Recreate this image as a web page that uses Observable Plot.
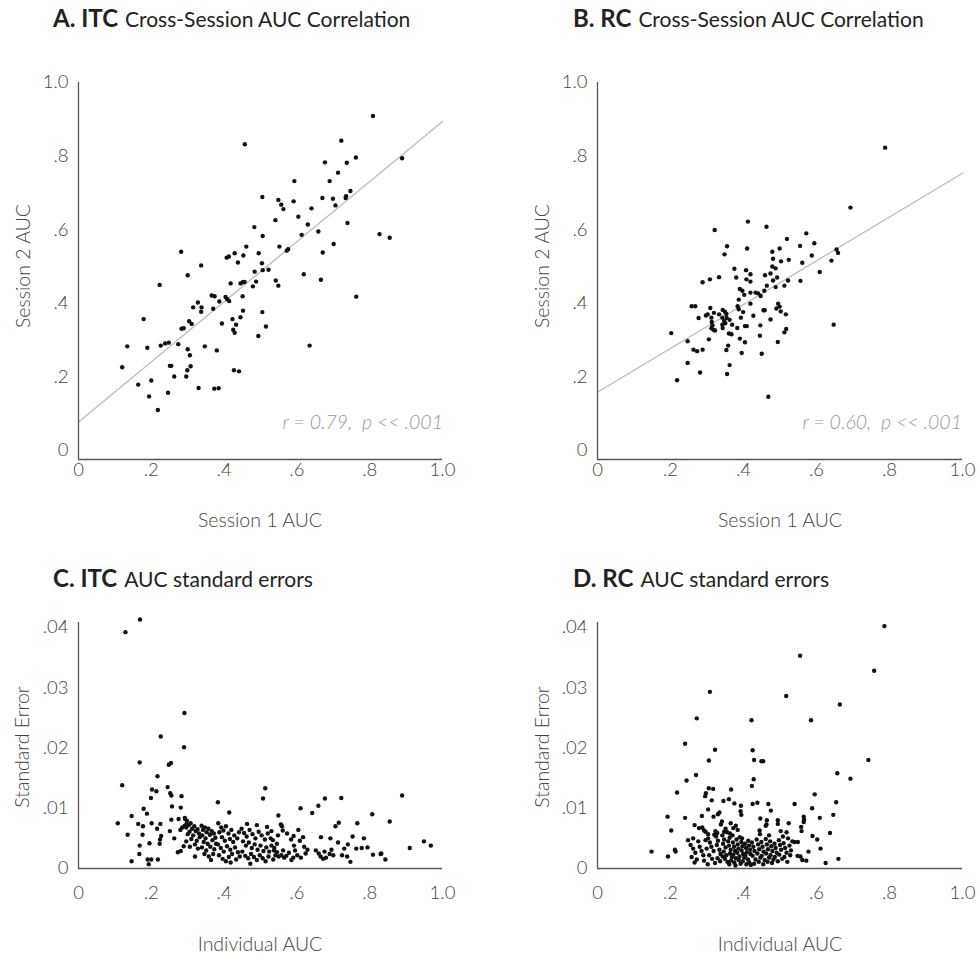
<!DOCTYPE html>
<html>
<head>
<meta charset="utf-8">
<script src="https://cdn.jsdelivr.net/npm/d3@7"></script>
<script src="https://cdn.jsdelivr.net/npm/@observablehq/plot@0.6"></script>
<style>
  body { margin: 0; background: #fff; }
  #root { position: relative; width: 980px; height: 956px; overflow: hidden; font-family: Lato, "Open Sans", sans-serif; }
  .title { position: absolute; font-size: 21px; color: #222; white-space: nowrap; line-height: 28px; }
  .title b { font-size: 24px; font-weight: 700; margin-right: 7px; }
  .axt { position: absolute; font-size: 19.5px; font-weight: 300; color: #444; white-space: nowrap; transform: translate(-50%, -50%); }
  .axt.rot { transform: translate(-50%, -50%) rotate(-90deg); }
  .note { position: absolute; font-size: 19.5px; font-weight: 300; font-style: italic; color: #999; white-space: nowrap; transform: translate(-100%, -50%); }
  #root svg { position: absolute; }
</style>
</head>
<body>
<div id="root">
  <div class="title" style="left:53px;top:4px"><b>A. ITC</b>Cross-Session AUC Correlation</div>
  <div class="title" style="left:573px;top:4px"><b>B. RC</b>Cross-Session AUC Correlation</div>
  <div class="title" style="left:53px;top:564px"><b>C. ITC</b>AUC standard errors</div>
  <div class="title" style="left:573px;top:564px"><b>D. RC</b>AUC standard errors</div>

  <div class="axt rot" style="left:22px;top:266px">Session 2 AUC</div>
  <div class="axt" style="left:260px;top:519px">Session 1 AUC</div>
  <div class="axt rot" style="left:541px;top:266px">Session 2 AUC</div>
  <div class="axt" style="left:780px;top:519px">Session 1 AUC</div>
  <div class="axt rot" style="left:21px;top:747px">Standard Error</div>
  <div class="axt" style="left:260px;top:943px">Individual AUC</div>
  <div class="axt rot" style="left:541px;top:747px">Standard Error</div>
  <div class="axt" style="left:780px;top:943px">Individual AUC</div>

  <div class="note" style="left:443px;top:421px">r = 0.79,&nbsp; p &lt;&lt; .001</div>
  <div class="note" style="left:962px;top:421px">r = 0.60,&nbsp; p &lt;&lt; .001</div>
</div>
<script>
// ---------- DATA ----------
const aucTicks = [0, 0.2, 0.4, 0.6, 0.8, 1.0];
const seTicks = [0, 0.01, 0.02, 0.03, 0.04];

// Panel A: ITC, [session 1 AUC, session 2 AUC]
const itcCrossSession = [
  [0.457,0.832],[0.593,0.732],[0.505,0.689],[0.549,0.681],[0.557,0.668],[0.563,0.656],[0.591,0.677],[0.604,0.635],
  [0.541,0.626],[0.483,0.607],[0.506,0.583],[0.461,0.554],[0.552,0.554],[0.572,0.543],[0.576,0.547],[0.282,0.540],
  [0.429,0.536],[0.495,0.536],[0.407,0.524],[0.413,0.527],[0.453,0.530],[0.438,0.511],[0.504,0.509],[0.337,0.503],
  [0.506,0.490],[0.522,0.491],[0.484,0.486],[0.300,0.476],[0.418,0.454],[0.445,0.454],[0.451,0.457],[0.456,0.458],
  [0.488,0.459],[0.479,0.446],[0.542,0.462],[0.549,0.448],[0.223,0.450],[0.366,0.421],[0.374,0.419],[0.404,0.417],
  [0.409,0.411],[0.414,0.406],[0.387,0.405],[0.451,0.419],[0.328,0.402],[0.315,0.389],[0.338,0.389],[0.337,0.377],
  [0.370,0.385],[0.452,0.380],[0.505,0.376],[0.179,0.357],[0.304,0.351],[0.311,0.344],[0.394,0.345],[0.423,0.357],
  [0.445,0.362],[0.433,0.342],[0.515,0.337],[0.283,0.331],[0.289,0.332],[0.425,0.328],[0.429,0.320],[0.494,0.311],
  [0.134,0.283],[0.189,0.279],[0.226,0.285],[0.238,0.291],[0.248,0.293],[0.274,0.289],[0.347,0.283],[0.300,0.275],
  [0.380,0.272],[0.306,0.259],[0.120,0.226],[0.251,0.230],[0.255,0.230],[0.308,0.229],[0.299,0.218],[0.427,0.218],
  [0.441,0.215],[0.263,0.201],[0.296,0.201],[0.200,0.190],[0.164,0.179],[0.330,0.170],[0.373,0.168],[0.385,0.169],
  [0.246,0.157],[0.194,0.147],[0.218,0.110],
  [0.809,0.909],[0.722,0.842],[0.677,0.783],[0.737,0.782],[0.762,0.796],[0.889,0.794],[0.713,0.755],[0.690,0.732],
  [0.670,0.686],[0.699,0.684],[0.735,0.691],[0.734,0.686],[0.747,0.705],[0.706,0.666],[0.640,0.658],[0.630,0.614],
  [0.613,0.586],[0.659,0.595],[0.739,0.618],[0.827,0.588],[0.855,0.578],[0.701,0.561],[0.671,0.538],[0.619,0.479],
  [0.666,0.464],[0.763,0.418],[0.635,0.285]
];

// Panel B: RC, [session 1 AUC, session 2 AUC]
const rcCrossSession = [
  [0.412,0.622],[0.463,0.608],[0.321,0.599],[0.519,0.575],[0.355,0.555],[0.410,0.549],[0.479,0.540],[0.499,0.549],
  [0.348,0.533],[0.481,0.521],[0.503,0.514],[0.524,0.518],[0.479,0.500],[0.488,0.495],[0.375,0.494],[0.407,0.490],
  [0.419,0.479],[0.459,0.476],[0.474,0.481],[0.333,0.471],[0.380,0.470],[0.408,0.465],[0.481,0.462],[0.492,0.470],
  [0.308,0.465],[0.288,0.457],[0.419,0.459],[0.522,0.462],[0.464,0.448],[0.488,0.444],[0.512,0.448],[0.390,0.439],
  [0.397,0.434],[0.402,0.423],[0.419,0.429],[0.433,0.429],[0.440,0.427],[0.447,0.420],[0.457,0.434],[0.387,0.410],
  [0.419,0.399],[0.258,0.392],[0.268,0.392],[0.309,0.387],[0.343,0.382],[0.349,0.377],[0.353,0.371],[0.384,0.392],
  [0.387,0.384],[0.399,0.376],[0.455,0.381],[0.458,0.381],[0.495,0.399],[0.499,0.391],[0.490,0.386],[0.502,0.378],
  [0.516,0.370],[0.297,0.367],[0.302,0.370],[0.319,0.374],[0.333,0.370],[0.277,0.360],[0.312,0.361],[0.342,0.361],
  [0.354,0.360],[0.362,0.355],[0.347,0.352],[0.393,0.361],[0.427,0.366],[0.474,0.356],[0.313,0.349],[0.315,0.340],
  [0.312,0.332],[0.318,0.328],[0.322,0.326],[0.342,0.342],[0.350,0.346],[0.369,0.342],[0.383,0.333],[0.404,0.338],
  [0.409,0.338],[0.446,0.340],[0.343,0.333],[0.360,0.318],[0.367,0.316],[0.517,0.330],[0.512,0.321],[0.202,0.319],
  [0.305,0.302],[0.390,0.304],[0.404,0.294],[0.445,0.312],[0.247,0.297],[0.358,0.285],[0.353,0.273],[0.494,0.295],
  [0.263,0.274],[0.273,0.270],[0.288,0.274],[0.395,0.265],[0.450,0.263],[0.247,0.238],[0.362,0.232],[0.281,0.212],
  [0.355,0.208],[0.218,0.191],[0.468,0.146],
  [0.788,0.823],[0.693,0.660],[0.572,0.590],[0.594,0.563],[0.555,0.556],[0.587,0.530],[0.655,0.546],[0.659,0.537],
  [0.561,0.510],[0.641,0.516],[0.609,0.485],[0.556,0.461],[0.647,0.342]
];

// Panel C: ITC, [individual AUC, standard error]
const itcStdErrors = [
  [0.169,0.0413],[0.129,0.0392],[0.291,0.0258],[0.226,0.0219],[0.290,0.0201],[0.168,0.0176],[0.248,0.0172],[0.254,0.0175],
  [0.217,0.0153],[0.120,0.0138],[0.202,0.0131],[0.214,0.0128],[0.199,0.0117],[0.245,0.0135],[0.252,0.0125],[0.255,0.0121],
  [0.283,0.0120],[0.257,0.0103],[0.281,0.0101],[0.179,0.0099],[0.188,0.0091],[0.146,0.0087],[0.108,0.0075],[0.164,0.0074],
  [0.177,0.0070],[0.201,0.0075],[0.225,0.0074],[0.216,0.0066],[0.255,0.0081],[0.275,0.0082],[0.251,0.0062],[0.135,0.0056],
  [0.176,0.0056],[0.227,0.0054],[0.224,0.0048],[0.223,0.0041],[0.263,0.0050],[0.195,0.0042],[0.168,0.0038],[0.167,0.0024],
  [0.146,0.0012],[0.190,0.0015],[0.200,0.0015],[0.193,0.0007],[0.218,0.0015],[0.273,0.0027],[0.281,0.0029],[0.289,0.0037],
  [0.320,0.0020],[0.383,0.0110],[0.414,0.0093],[0.513,0.0133],[0.507,0.0116],[0.549,0.0088],
  [0.285,0.0068],[0.292,0.0071],[0.297,0.0074],[0.293,0.0082],[0.280,0.0064],
  [0.292,0.0084],[0.298,0.0079],[0.303,0.0072],[0.296,0.0068],[0.308,0.0075],[0.312,0.0066],[0.318,0.0070],[0.305,0.0061],
  [0.322,0.0062],[0.300,0.0057],[0.315,0.0055],[0.327,0.0065],[0.331,0.0058],[0.310,0.0049],[0.325,0.0046],[0.296,0.0045],
  [0.333,0.0052],[0.320,0.0040],[0.306,0.0036],[0.328,0.0033],
  [0.338,0.0071],[0.342,0.0064],[0.347,0.0068],[0.352,0.0060],[0.357,0.0066],[0.340,0.0055],[0.349,0.0050],[0.361,0.0056],
  [0.366,0.0062],[0.372,0.0058],[0.344,0.0044],[0.355,0.0041],[0.368,0.0047],[0.376,0.0051],[0.339,0.0035],[0.351,0.0030],
  [0.362,0.0036],[0.373,0.0032],[0.346,0.0024],[0.358,0.0020],[0.370,0.0024],[0.378,0.0041],[0.364,0.0014],
  [0.384,0.0075],[0.392,0.0068],[0.387,0.0060],[0.398,0.0063],[0.405,0.0070],[0.412,0.0058],[0.420,0.0064],[0.428,0.0055],
  [0.394,0.0052],[0.402,0.0046],[0.416,0.0049],[0.425,0.0044],[0.436,0.0050],[0.441,0.0060],[0.383,0.0040],[0.391,0.0034],
  [0.399,0.0028],[0.408,0.0037],[0.417,0.0031],[0.430,0.0035],[0.438,0.0027],[0.386,0.0022],[0.396,0.0016],[0.405,0.0012],
  [0.413,0.0019],[0.422,0.0024],[0.433,0.0015],[0.443,0.0020],[0.418,0.0010],
  [0.448,0.0066],[0.455,0.0059],[0.462,0.0053],[0.470,0.0064],[0.478,0.0057],[0.486,0.0050],[0.495,0.0061],[0.503,0.0055],
  [0.512,0.0048],[0.520,0.0058],[0.530,0.0062],[0.452,0.0045],[0.460,0.0038],[0.468,0.0043],[0.476,0.0034],[0.484,0.0040],
  [0.492,0.0031],[0.500,0.0038],[0.508,0.0029],[0.516,0.0035],[0.524,0.0028],[0.450,0.0028],[0.458,0.0021],[0.466,0.0017],
  [0.474,0.0024],[0.482,0.0019],[0.490,0.0014],[0.498,0.0022],[0.506,0.0017],[0.514,0.0012],[0.522,0.0020],[0.538,0.0034],
  [0.545,0.0041],[0.548,0.0055],[0.518,0.0069],[0.490,0.0072],[0.463,0.0074],[0.472,0.0008],[0.535,0.0015],
  [0.528,0.0050],[0.534,0.0047],[0.530,0.0038],[0.537,0.0030],[0.541,0.0022],[0.550,0.0020],[0.557,0.0022],[0.565,0.0018],
  [0.571,0.0021],[0.585,0.0014],[0.590,0.0018],[0.545,0.0027],[0.562,0.0030],[0.578,0.0026],
  [0.889,0.0121],[0.677,0.0116],[0.722,0.0117],[0.659,0.0104],[0.610,0.0100],[0.642,0.0092],[0.807,0.0090],[0.766,0.0075],
  [0.855,0.0078],[0.706,0.0070],[0.715,0.0076],[0.556,0.0073],[0.559,0.0070],[0.604,0.0064],[0.561,0.0063],[0.573,0.0058],
  [0.666,0.0052],[0.692,0.0050],[0.753,0.0053],[0.784,0.0050],[0.584,0.0048],[0.591,0.0054],[0.608,0.0046],[0.617,0.0052],
  [0.713,0.0043],[0.740,0.0040],[0.730,0.0033],[0.763,0.0033],[0.778,0.0034],[0.794,0.0035],[0.910,0.0034],[0.949,0.0045],
  [0.968,0.0038],[0.809,0.0023],[0.830,0.0024],[0.832,0.0025],[0.843,0.0015],[0.747,0.0011],[0.724,0.0022],[0.738,0.0020],
  [0.592,0.0038],[0.595,0.0030],[0.601,0.0022],[0.611,0.0018],[0.624,0.0025],[0.629,0.0031],[0.620,0.0036],
  [0.652,0.0030],[0.660,0.0025],[0.665,0.0020],[0.672,0.0016],[0.680,0.0018],[0.690,0.0024],[0.700,0.0022],[0.676,0.0028],
  [0.695,0.0031]
];

// Panel D: RC, [individual AUC, standard error]
const rcStdErrors = [
  [0.786,0.0402],[0.555,0.0353],[0.758,0.0328],[0.308,0.0293],[0.517,0.0286],[0.664,0.0272],[0.272,0.0249],[0.422,0.0246],
  [0.585,0.0246],[0.240,0.0207],[0.425,0.0196],[0.322,0.0197],[0.305,0.0179],[0.429,0.0180],[0.449,0.0178],[0.454,0.0178],
  [0.742,0.0180],[0.270,0.0155],[0.244,0.0146],[0.428,0.0148],[0.657,0.0158],[0.693,0.0149],[0.423,0.0137],[0.218,0.0126],
  [0.305,0.0133],[0.317,0.0132],[0.297,0.0125],[0.295,0.0120],[0.366,0.0131],[0.595,0.0123],[0.313,0.0113],[0.345,0.0112],
  [0.360,0.0115],[0.375,0.0108],[0.393,0.0104],[0.392,0.0095],[0.394,0.0089],[0.425,0.0107],[0.438,0.0109],[0.468,0.0107],
  [0.475,0.0096],[0.540,0.0107],[0.654,0.0110],[0.588,0.0100],[0.303,0.0098],[0.334,0.0093],[0.330,0.0090],[0.318,0.0086],
  [0.286,0.0087],[0.192,0.0086],[0.240,0.0084],[0.565,0.0086],[0.566,0.0081],[0.565,0.0077],[0.609,0.0084],[0.646,0.0089],
  [0.446,0.0083],[0.464,0.0080],[0.463,0.0073],[0.494,0.0080],[0.494,0.0074],[0.524,0.0075],[0.341,0.0078],[0.338,0.0073],
  [0.365,0.0075],[0.372,0.0067],[0.379,0.0071],[0.202,0.0063],[0.266,0.0072],[0.278,0.0067],[0.287,0.0068],[0.292,0.0063],
  [0.296,0.0061],[0.303,0.0057],[0.323,0.0062],[0.328,0.0059],[0.351,0.0066],[0.347,0.0061],[0.363,0.0058],[0.384,0.0064],
  [0.444,0.0063],[0.461,0.0071],[0.502,0.0062],[0.518,0.0060],[0.558,0.0069],[0.559,0.0062],[0.637,0.0059],[0.589,0.0054],
  [0.602,0.0048],[0.262,0.0050],[0.248,0.0047],[0.611,0.0033],[0.578,0.0028],[0.148,0.0028],[0.193,0.0020],[0.212,0.0031],
  [0.214,0.0028],[0.660,0.0016],[0.625,0.0009],[0.561,0.0014],[0.572,0.0013],[0.548,0.0021],[0.556,0.0020],[0.540,0.0044],
  [0.549,0.0044],
  [0.255,0.0039],[0.262,0.0033],[0.268,0.0026],[0.258,0.0019],[0.272,0.0015],[0.280,0.0036],[0.285,0.0029],[0.290,0.0022],
  [0.296,0.0047],[0.292,0.0013],[0.276,0.0045],[0.299,0.0033],[0.266,0.0010],
  [0.303,0.0050],[0.308,0.0043],[0.312,0.0036],[0.318,0.0029],[0.306,0.0022],[0.314,0.0016],[0.322,0.0009],[0.325,0.0053],
  [0.330,0.0046],[0.327,0.0039],[0.334,0.0031],[0.337,0.0024],[0.329,0.0017],[0.336,0.0012],[0.320,0.0056],[0.302,0.0007],
  [0.342,0.0055],[0.347,0.0048],[0.344,0.0041],[0.351,0.0035],[0.346,0.0028],[0.353,0.0022],[0.349,0.0016],[0.356,0.0011],
  [0.358,0.0045],[0.362,0.0051],[0.360,0.0038],[0.365,0.0031],[0.363,0.0025],[0.368,0.0019],[0.366,0.0013],[0.371,0.0043],
  [0.374,0.0036],[0.377,0.0029],[0.372,0.0023],[0.379,0.0017],[0.375,0.0010],[0.381,0.0048],[0.384,0.0040],[0.386,0.0033],
  [0.383,0.0026],[0.389,0.0020],[0.387,0.0014],[0.392,0.0008],[0.394,0.0044],[0.397,0.0037],[0.395,0.0030],[0.399,0.0024],
  [0.402,0.0018],[0.398,0.0012],[0.404,0.0041],[0.407,0.0034],[0.409,0.0027],[0.405,0.0021],[0.412,0.0015],[0.408,0.0007],
  [0.415,0.0038],[0.418,0.0031],[0.413,0.0046],[0.419,0.0024],[0.416,0.0010],[0.355,0.0060],[0.370,0.0055],[0.390,0.0052],
  [0.378,0.0005],[0.361,0.0007],[0.420,0.0006],[0.343,0.0020],[0.396,0.0050],
  [0.423,0.0043],[0.427,0.0036],[0.430,0.0029],[0.425,0.0021],[0.433,0.0015],[0.429,0.0008],[0.436,0.0048],[0.440,0.0040],
  [0.443,0.0032],[0.438,0.0025],[0.446,0.0018],[0.442,0.0011],[0.449,0.0044],[0.452,0.0036],[0.455,0.0028],[0.450,0.0021],
  [0.458,0.0014],[0.454,0.0007],[0.461,0.0049],[0.464,0.0040],[0.467,0.0032],[0.462,0.0025],[0.470,0.0018],[0.466,0.0011],
  [0.473,0.0045],[0.476,0.0037],[0.479,0.0029],[0.474,0.0022],[0.482,0.0015],[0.478,0.0009],[0.485,0.0041],[0.488,0.0034],
  [0.491,0.0026],[0.486,0.0019],[0.494,0.0012],[0.497,0.0047],[0.500,0.0039],[0.503,0.0031],[0.498,0.0023],[0.506,0.0016],
  [0.510,0.0042],[0.514,0.0034],[0.518,0.0026],[0.512,0.0019],[0.522,0.0050],[0.526,0.0038],[0.530,0.0030],[0.534,0.0045],
  [0.520,0.0011],[0.528,0.0022],[0.445,0.0057],[0.470,0.0055],[0.508,0.0053]
];

// ---------- DRAWING ----------
const root = document.getElementById("root");
const tickFmt = d => d === 0 ? "0" : d === 1 ? "1.0" : String(d).replace(/^0\./, ".");

function fitLine(pts) {
  const mx = d3.mean(pts, d => d[0]), my = d3.mean(pts, d => d[1]);
  const sxy = d3.sum(pts, d => (d[0] - mx) * (d[1] - my));
  const sxx = d3.sum(pts, d => (d[0] - mx) ** 2);
  const slope = sxy / sxx;
  return {slope, intercept: my - slope * mx};
}

function panel(o) {
  const xDomain = [0, 1];
  const marks = [];
  if (o.fit) {
    const f = fitLine(o.data);
    const ends = xDomain.map(x => ({x, y: f.intercept + f.slope * x}));
    marks.push(Plot.line(ends, {x: "x", y: "y", stroke: "#bcbcbc", strokeWidth: 1.3}));
  }
  marks.push(Plot.ruleX([xDomain[0]], {stroke: "#555", strokeWidth: 1.3}));
  marks.push(Plot.ruleY([o.yDomain[0]], {stroke: "#555", strokeWidth: 1.3}));
  marks.push(Plot.dot(o.data, {x: d => d[0], y: d => d[1], r: 2.2, fill: "#111", stroke: "none"}));
  const svg = Plot.plot({
    width: o.width, height: o.height,
    marginLeft: o.ml, marginRight: o.mr, marginTop: o.mt, marginBottom: o.mb,
    x: {domain: xDomain, ticks: aucTicks, tickFormat: tickFmt, tickSize: 0, tickPadding: o.xPad, label: null},
    y: {domain: o.yDomain, ticks: o.yTicks, tickFormat: tickFmt, tickSize: 0, tickPadding: 10, label: null},
    style: {fontFamily: "Lato, 'Open Sans', sans-serif", fontSize: "18.5px", fontWeight: 300, color: "#444", background: "transparent", overflow: "visible"},
    marks
  });
  svg.style.left = o.left + "px";
  svg.style.top = o.top + "px";
  root.appendChild(svg);
}

panel({data: itcCrossSession, fit: true, yDomain: [-0.0245, 1], yTicks: aucTicks,
  left: 0, top: 60, width: 490, height: 420, ml: 78, mr: 48, mt: 22, mb: 21, xPad: 3});
panel({data: rcCrossSession, fit: true, yDomain: [-0.0245, 1], yTicks: aucTicks,
  left: 490, top: 60, width: 490, height: 420, ml: 107, mr: 18, mt: 22, mb: 21, xPad: 3});
panel({data: itcStdErrors, fit: false, yDomain: [0, 0.0408], yTicks: seTicks,
  left: 0, top: 600, width: 490, height: 320, ml: 78, mr: 48, mt: 22, mb: 52, xPad: 17});
panel({data: rcStdErrors, fit: false, yDomain: [0, 0.0408], yTicks: seTicks,
  left: 490, top: 600, width: 490, height: 320, ml: 107, mr: 18, mt: 22, mb: 52, xPad: 17});
</script>
</body>
</html>
